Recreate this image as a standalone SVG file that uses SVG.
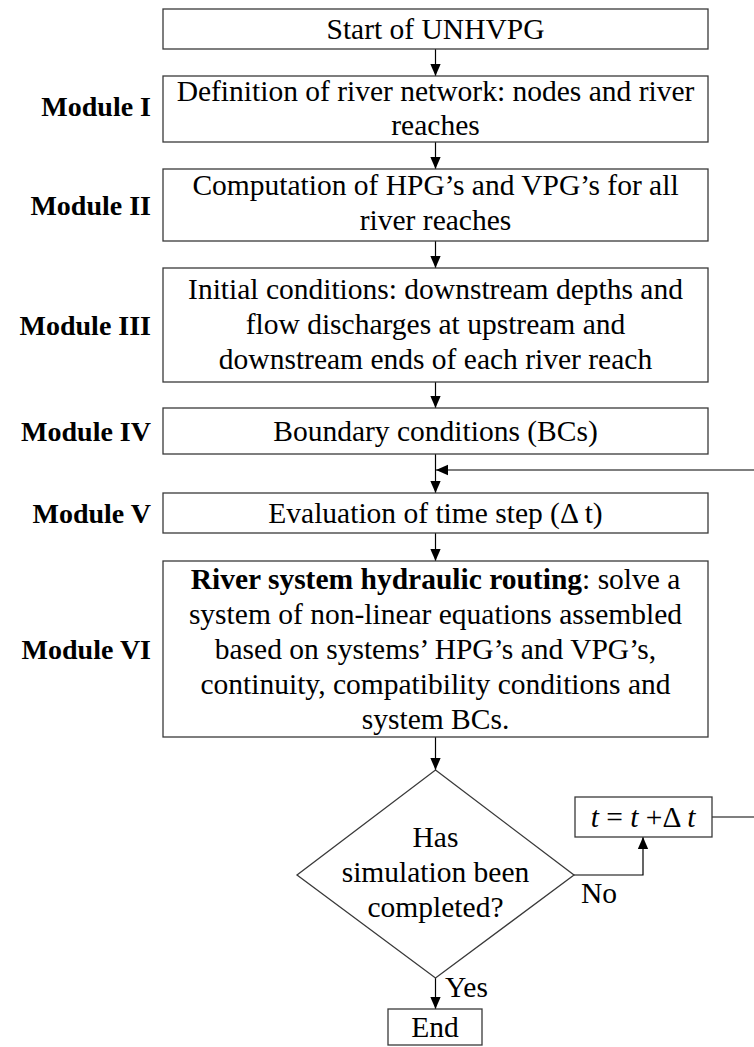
<svg xmlns="http://www.w3.org/2000/svg" width="754" height="1047" viewBox="0 0 754 1047" font-family="'Liberation Serif', 'Times New Roman', 'DejaVu Serif', serif">
  <defs>
    <marker id="arrow" markerWidth="12" markerHeight="15" refX="14" refY="6" viewBox="0 0 14 12" orient="auto" markerUnits="userSpaceOnUse">
      <path d="M0,0 L14,6 L0,12 Z" fill="#000"/>
    </marker>
    <style>
      .box { fill: #fff; stroke: #3a3a3a; stroke-width: 1.3; }
      .txt { font-size: 29.5px; fill: #000; text-anchor: middle; }
      .mod { font-size: 28px; font-weight: bold; fill: #000; text-anchor: end; }
      .lbl { font-size: 29.5px; fill: #000; }
      .edge { fill: none; stroke: #000; stroke-width: 1.2; }
      .it { font-style: italic; }
    </style>
  </defs>
  <rect width="754" height="1047" fill="#fff"/>

  <!-- connectors -->
  <g id="connectors">
    <line class="edge" x1="435.5" y1="49" x2="435.5" y2="76" marker-end="url(#arrow)"/>
    <line class="edge" x1="435.5" y1="142" x2="435.5" y2="169" marker-end="url(#arrow)"/>
    <line class="edge" x1="435.5" y1="241" x2="435.5" y2="268" marker-end="url(#arrow)"/>
    <line class="edge" x1="435.5" y1="382" x2="435.5" y2="408" marker-end="url(#arrow)"/>
    <line class="edge" x1="435.5" y1="454" x2="435.5" y2="493" marker-end="url(#arrow)"/>
    <line class="edge" x1="435.5" y1="533" x2="435.5" y2="561" marker-end="url(#arrow)"/>
    <line class="edge" x1="435.5" y1="737" x2="435.5" y2="770" marker-end="url(#arrow)"/>
    <line class="edge" x1="435.5" y1="978" x2="435.5" y2="1009" marker-end="url(#arrow)"/>
    <!-- "No" branch to the time increment -->
    <polyline class="edge" points="574,875 643,875 643,837" marker-end="url(#arrow)"/>
    <!-- loop back to the time-step evaluation -->
    <polyline class="edge" points="712,817 762,817 762,470 436,470" marker-end="url(#arrow)"/>
  </g>

  <g id="start">
    <rect class="box" x="163" y="9" width="545" height="40"/>
    <text class="txt" x="435.5" y="39">Start of UNHVPG</text>
  </g>

  <g id="module1">
    <text class="mod" x="151" y="116">Module I</text>
    <rect class="box" x="163" y="76" width="545" height="66"/>
    <text class="txt" x="435.5" y="101">Definition of river network: nodes and river</text>
    <text class="txt" x="435.5" y="135">reaches</text>
  </g>

  <g id="module2">
    <text class="mod" x="151" y="215">Module II</text>
    <rect class="box" x="163" y="169" width="545" height="72"/>
    <text class="txt" x="435.5" y="195">Computation of HPG’s and VPG’s for all</text>
    <text class="txt" x="435.5" y="230">river reaches</text>
  </g>

  <g id="module3">
    <text class="mod" x="151" y="335">Module III</text>
    <rect class="box" x="163" y="268" width="545" height="114"/>
    <text class="txt" x="435.5" y="299">Initial conditions: downstream depths and</text>
    <text class="txt" x="435.5" y="334">flow discharges at upstream and</text>
    <text class="txt" x="435.5" y="369">downstream ends of each river reach</text>
  </g>

  <g id="module4">
    <text class="mod" x="151" y="441">Module IV</text>
    <rect class="box" x="163" y="408" width="545" height="46"/>
    <text class="txt" x="435.5" y="441">Boundary conditions (BCs)</text>
  </g>

  <g id="module5">
    <text class="mod" x="151" y="523">Module V</text>
    <rect class="box" x="163" y="493" width="545" height="40"/>
    <text class="txt" x="435.5" y="523">Evaluation of time step (Δ t)</text>
  </g>

  <g id="module6">
    <text class="mod" x="151" y="659">Module VI</text>
    <rect class="box" x="163" y="561" width="545" height="176"/>
    <text class="txt" x="435.5" y="589"><tspan font-weight="bold">River system hydraulic routing</tspan>: solve a</text>
    <text class="txt" x="435.5" y="624">system of non-linear equations assembled</text>
    <text class="txt" x="435.5" y="659">based on systems’ HPG’s and VPG’s,</text>
    <text class="txt" x="435.5" y="694">continuity, compatibility conditions and</text>
    <text class="txt" x="435.5" y="729">system BCs.</text>
  </g>

  <g id="decision">
    <polygon class="box" points="435.5,770 574,875 435.5,978 297,875"/>
    <text class="txt" x="435.5" y="847">Has</text>
    <text class="txt" x="435.5" y="882">simulation been</text>
    <text class="txt" x="435.5" y="917">completed?</text>
    <text class="lbl" x="581" y="903">No</text>
    <text class="lbl" x="445" y="997">Yes</text>
  </g>

  <g id="time-increment">
    <rect class="box" x="575" y="797" width="137" height="40"/>
    <text class="txt" x="643" y="827"><tspan class="it">t</tspan> = <tspan class="it">t</tspan> +Δ <tspan class="it">t</tspan></text>
  </g>

  <g id="end">
    <rect class="box" x="388" y="1009" width="94" height="36"/>
    <text class="txt" x="435" y="1037">End</text>
  </g>
</svg>
